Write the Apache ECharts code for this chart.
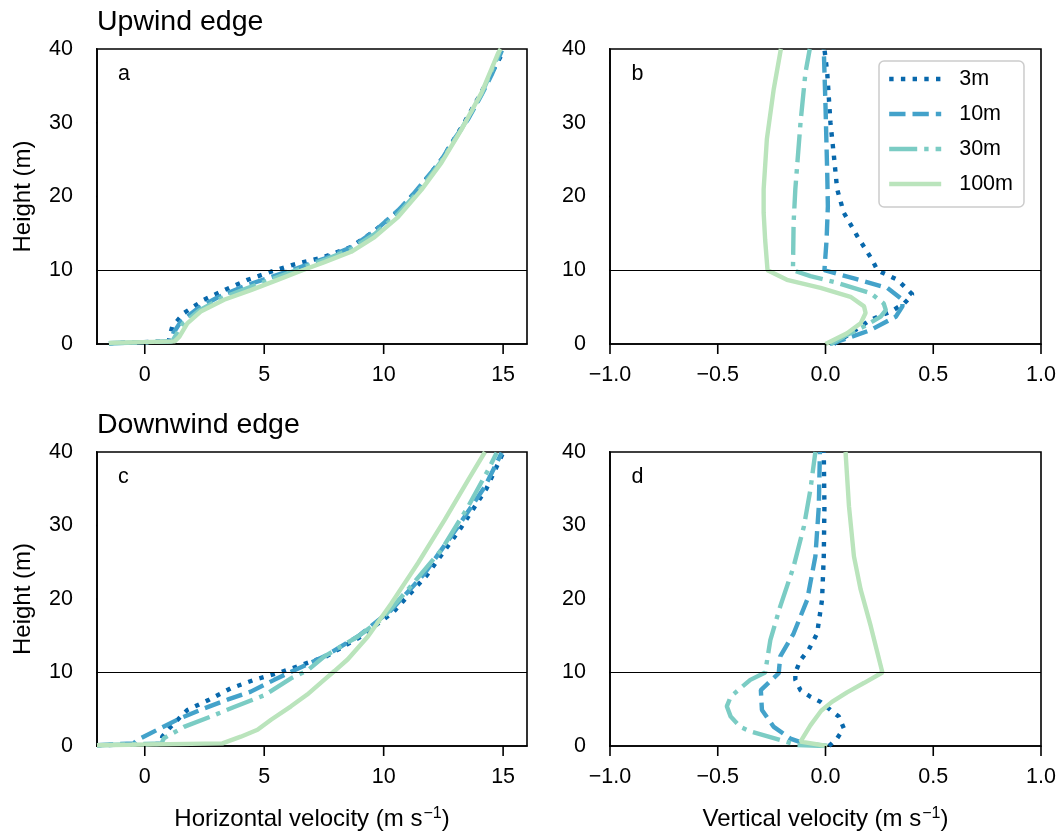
<!DOCTYPE html>
<html>
<head>
<meta charset="utf-8">
<script src="https://cdn.jsdelivr.net/npm/echarts@6/dist/echarts.min.js"></script>
<style>
  html, body { margin: 0; padding: 0; background: #fff; }
  #chart { width: 1062px; height: 834px; }
</style>
</head>
<body>
<div id="chart"></div>
<script>
// Profile labels (distance into the canopy) and their styles
const profileNames = ['3m', '10m', '30m', '100m'];
const heightTicks = [0, 10, 20, 30, 40];
const horizontalTicks = [0, 5, 10, 15];
const verticalTicks = [-1.0, -0.5, 0.0, 0.5, 1.0];
const canopyTop = 10;

// Upwind edge: horizontal velocity [u (m/s), height (m)]
const upU_3m = [[-1.5,0.1],[1.0,0.35],[1.05,1.2],[1.15,2.35],[1.64,4.2],[2.48,6.0],[3.39,7.4],[4.3,8.7],[5.28,9.8],[6.27,10.8],[7.4,11.7],[8.6,13.1],[9.6,15.3],[10.6,18.0],[11.6,21.6],[12.42,25.0],[13.3,29.6],[14.0,33.6],[14.6,37.2],[15.0,39.6]];
const upU_10m = [[-1.5,0.1],[1.1,0.35],[1.2,1.5],[1.5,3.0],[2.2,4.8],[3.1,6.4],[4.2,7.9],[5.4,9.2],[6.4,10.3],[7.52,11.6],[8.64,13.1],[9.62,15.3],[10.6,18.1],[11.16,20.0],[12.0,23.3],[12.42,25.0],[13.0,28.0],[13.54,30.5],[14.1,33.8],[14.52,36.5],[14.95,39.8]];
const upU_30m = [[-1.5,0.1],[1.15,0.35],[1.3,1.2],[1.6,2.8],[2.3,4.6],[3.2,6.2],[4.3,7.6],[5.5,9.0],[6.5,10.2],[7.52,11.4],[8.64,12.85],[9.62,14.9],[10.6,17.6],[11.58,21.2],[12.42,24.8],[13.3,29.4],[14.1,33.9],[14.85,39.6]];
const upU_100m = [[-1.5,0.15],[1.25,0.35],[1.45,1.0],[1.78,2.8],[2.34,4.4],[3.32,6.0],[4.44,7.3],[5.56,8.7],[6.6,10.0],[7.52,11.1],[8.64,12.5],[9.62,14.5],[10.6,17.2],[11.58,20.9],[12.42,24.6],[13.26,29.1],[14.1,34.1],[14.8,39.5],[14.9,40]];

// Upwind edge: vertical velocity [w (m/s), height (m)]
const upW_3m = [[0.039,0],[0.116,1.45],[0.21,3.3],[0.303,4.4],[0.365,5.5],[0.404,6.7],[0.334,8.7],[0.241,10.0],[0.217,11.4],[0.148,14.6],[0.085,17.8],[0.054,21],[0.039,25.5],[0.023,30],[0.008,36.8],[-0.005,40]];
const upW_10m = [[0.02,0],[0.054,0.3],[0.21,1.9],[0.326,3.7],[0.357,5.1],[0.357,6.0],[0.287,7.6],[0.132,8.9],[-0.005,10.0],[0.005,14.1],[0.011,18.7],[0.008,23.2],[0,32.3],[-0.008,40]];
const upW_30m = [[0.023,0],[0.085,1.0],[0.18,2.4],[0.256,3.7],[0.28,4.6],[0.27,5.5],[0.21,6.9],[0.054,8.3],[-0.07,9.2],[-0.151,10.0],[-0.148,16.4],[-0.14,21],[-0.116,30],[-0.093,36.8],[-0.073,40]];
const upW_100m = [[0,0],[0.10,1.45],[0.163,2.8],[0.186,4.2],[0.179,5.1],[0.116,6.4],[-0.023,7.6],[-0.179,8.7],[-0.269,10.0],[-0.28,14.1],[-0.287,17.8],[-0.287,21],[-0.272,27.8],[-0.24,34.6],[-0.207,40]];

// Downwind edge: horizontal velocity [u (m/s), height (m)]
const downU_3m = [[-2.0,0.1],[0.7,0.3],[0.73,1.27],[1.08,2.6],[1.78,4.9],[2.69,6.3],[3.6,7.85],[4.58,9.0],[5.56,9.9],[6.54,11.0],[7.6,12.2],[9.0,14.8],[10.4,18.2],[11.8,23.2],[13.2,29.5],[14.3,35.0],[15.0,39.9]];
const downU_10m = [[-2.0,0.1],[-0.46,0.36],[-0.32,0.8],[0.52,2.2],[1.5,3.8],[2.48,5.1],[3.46,6.3],[4.44,7.4],[5.42,9.0],[6.26,10.3],[7.52,12.2],[8.92,14.9],[10.32,18.5],[11.72,23.5],[13.12,29.9],[14.24,35.3],[14.94,39.9]];
const downU_30m = [[-2.0,0.1],[0.7,0.35],[0.8,1.05],[1.64,2.6],[2.76,4.0],[3.74,5.3],[5.0,6.9],[6.12,9.2],[6.82,10.3],[7.52,12.2],[8.92,14.9],[9.9,17.2],[11.02,21.3],[12.42,26.7],[13.54,32.6],[14.38,37.6],[14.73,39.9]];
const downU_100m = [[-2.0,0.1],[3.25,0.36],[4.02,1.27],[4.72,2.2],[5.3,3.6],[6.12,5.4],[6.8,7.0],[7.4,8.7],[7.94,10.2],[8.5,11.8],[9.34,14.9],[10.32,19.4],[11.44,24.9],[12.56,30.8],[13.54,36.2],[14.24,40]];

// Downwind edge: vertical velocity [w (m/s), height (m)]
const downW_3m = [[0.016,0],[0.054,1.05],[0.085,2.4],[0.062,4.0],[0.023,4.9],[-0.023,6.0],[-0.07,6.7],[-0.116,7.6],[-0.14,9.0],[-0.14,10.0],[-0.116,11.7],[-0.078,13.1],[-0.039,15.3],[-0.016,19.9],[-0.008,25.8],[-0.005,32.6],[-0.008,40]];
const downW_10m = [[0.008,0],[-0.1,0.36],[-0.163,1.0],[-0.24,2.6],[-0.295,4.9],[-0.3,7.6],[-0.217,9.9],[-0.21,12.2],[-0.148,15.3],[-0.085,19.9],[-0.047,25.8],[-0.031,32.6],[-0.026,40]];
const downW_30m = [[0.0,0],[-0.13,0.14],[-0.209,0.8],[-0.35,2.0],[-0.395,2.6],[-0.44,4.0],[-0.458,5.4],[-0.44,6.7],[-0.395,7.85],[-0.349,9.0],[-0.28,10.0],[-0.256,14.4],[-0.21,19.0],[-0.148,24.4],[-0.1,29.9],[-0.07,34.9],[-0.047,40]];
const downW_100m = [[0.008,0],[-0.116,0.6],[-0.07,2.8],[-0.02,4.8],[0.03,6.0],[0.1,7.3],[0.18,8.6],[0.264,10.0],[0.21,16.3],[0.163,21.3],[0.132,25.8],[0.109,32.6],[0.093,40]];

const FONT = '"Liberation Sans", Arial, Helvetica, sans-serif';
const colors = ['#0868ac', '#43a2ca', '#7bccc4', '#bae4bc'];
const dashes = [[4.4, 7.3], [16.3, 7], [28, 7, 4.4, 7], 'solid'];
const TICK_LEN = 10;

const panels = [
  { data: [upU_3m, upU_10m, upU_30m, upU_100m], kind: 'u' },
  { data: [upW_3m, upW_10m, upW_30m, upW_100m], kind: 'w' },
  { data: [downU_3m, downU_10m, downU_30m, downU_100m], kind: 'u' },
  { data: [downW_3m, downW_10m, downW_30m, downW_100m], kind: 'w' }
];
const xRange = { u: [-2, 16], w: [verticalTicks[0], verticalTicks[verticalTicks.length - 1]] };
const xTickValues = { u: horizontalTicks, w: verticalTicks };

const grids = [
  { left: 97, top: 49, width: 430, height: 295 },
  { left: 610, top: 49, width: 431, height: 295 },
  { left: 97, top: 452, width: 430, height: 294 },
  { left: 610, top: 452, width: 431, height: 294 }
].map(g => Object.assign(g, {
  show: true, borderColor: '#000', borderWidth: 1.6, backgroundColor: 'transparent',
  containLabel: false, outerBoundsMode: 'none'
}));

const labelStyle = { color: '#000', fontSize: 21.5, fontFamily: FONT };
const spineStyle = { show: true, onZero: false, lineStyle: { color: '#000', width: 1.6 } };
const nameStyle = {
  color: '#000', fontSize: 24, fontFamily: FONT, lineHeight: 26,
  rich: { sup: { fontSize: 16, fontFamily: FONT, color: '#000', verticalAlign: 'bottom', lineHeight: 16, padding: [0, 0, 10, 1] } }
};
const fmtSigned = v => (v < 0 ? '\u2212' : '') + Math.abs(v).toFixed(1);

const xAxes = panels.map((p, i) => {
  const bottomRow = i >= 2;
  const base = {
    type: 'value', gridIndex: i, position: 'bottom',
    min: xRange[p.kind][0], max: xRange[p.kind][1],
    axisLine: spineStyle, splitLine: { show: false }, axisTick: { show: false },
    axisLabel: Object.assign({ margin: 20 }, labelStyle),
    nameLocation: 'middle', nameGap: 60, nameTextStyle: nameStyle
  };
  if (p.kind === 'u') {
    base.axisLabel.customValues = horizontalTicks;
    if (bottomRow) base.name = 'Horizontal velocity (m s{sup|\u22121})';
  } else {
    base.interval = 0.5;
    base.axisLabel.formatter = fmtSigned;
    if (bottomRow) base.name = 'Vertical velocity (m s{sup|\u22121})';
  }
  return base;
});

const yAxes = panels.map((p, i) => ({
  type: 'value', gridIndex: i, position: 'left',
  min: heightTicks[0], max: heightTicks[heightTicks.length - 1], interval: 10,
  axisLine: spineStyle, splitLine: { show: false }, axisTick: { show: false },
  axisLabel: Object.assign({ margin: 24 }, labelStyle),
  name: (i % 2 === 0) ? 'Height (m)' : '',
  nameLocation: 'middle', nameRotate: 90, nameGap: 62,
  nameTextStyle: { color: '#000', fontSize: 24, fontFamily: FONT }
}));

const series = [];
panels.forEach((p, i) => {
  p.data.forEach((d, k) => {
    const s = {
      type: 'line', name: profileNames[k], xAxisIndex: i, yAxisIndex: i,
      data: d, showSymbol: false, symbol: 'none', smooth: false, clip: true,
      color: colors[k],
      itemStyle: { color: colors[k] },
      lineStyle: { color: colors[k], width: 4.4, type: dashes[k], cap: 'butt' },
      emphasis: { disabled: true }, z: 2 + k
    };
    if (k === 0) {
      s.markLine = {
        silent: true, symbol: ['none', 'none'], animation: false,
        label: { show: false },
        lineStyle: { color: '#000', width: 1.2, type: 'solid' },
        data: [{ yAxis: canopyTop }], z: 10
      };
    }
    series.push(s);
  });

  // Outward tick marks: short unclipped segments laid out in data units of this grid
  const g = grids[i];
  const [xMin, xMax] = xRange[p.kind];
  const yMin = heightTicks[0], yMax = heightTicks[heightTicks.length - 1];
  const dx = TICK_LEN * (xMax - xMin) / g.width;
  const dy = TICK_LEN * (yMax - yMin) / g.height;
  const tickStyle = {
    type: 'line', xAxisIndex: i, yAxisIndex: i, clip: false, silent: true,
    showSymbol: false, symbol: 'none', z: 20, animation: false,
    lineStyle: { color: '#000', width: 1.6, type: 'solid' }, emphasis: { disabled: true },
    tooltip: { show: false }
  };
  xTickValues[p.kind].forEach(v => {
    series.push(Object.assign({}, tickStyle, { data: [[v, yMin], [v, yMin - dy]] }));
  });
  heightTicks.forEach(h => {
    series.push(Object.assign({}, tickStyle, { data: [[xMin, h], [xMin - dx, h]] }));
  });
});

const txt = (x, y, text, size) => ({
  type: 'text', x: x, y: y, silent: true,
  style: { text: text, fill: '#000', fontSize: size, fontFamily: FONT, verticalAlign: 'middle', align: 'left' }
});

const option = {
  animation: false,
  backgroundColor: '#fff',
  grid: grids,
  xAxis: xAxes,
  yAxis: yAxes,
  series: series,
  legend: {
    data: profileNames, orient: 'vertical', left: 879, top: 61,
    itemWidth: 52, itemHeight: 22, itemGap: 13,
    padding: [7, 11, 12, 8],
    backgroundColor: '#fff', borderColor: '#cccccc', borderWidth: 1.5, borderRadius: 5,
    itemStyle: { opacity: 0 },
    lineStyle: { width: 4.4 },
    textStyle: { fontSize: 21.5, color: '#000', fontFamily: FONT, padding: [0, 0, 0, 13] },
    selectedMode: false
  },
  graphic: [
    txt(97, 22, 'Upwind edge', 28.5),
    txt(97, 425, 'Downwind edge', 28.5),
    txt(118, 74.5, 'a', 21.5),
    txt(631.5, 74.5, 'b', 21.5),
    txt(118, 477.5, 'c', 21.5),
    txt(631.5, 477.5, 'd', 21.5)
  ]
};

const chart = echarts.init(document.getElementById('chart'), null, { renderer: 'canvas' });
chart.setOption(option);
</script>
</body>
</html>
